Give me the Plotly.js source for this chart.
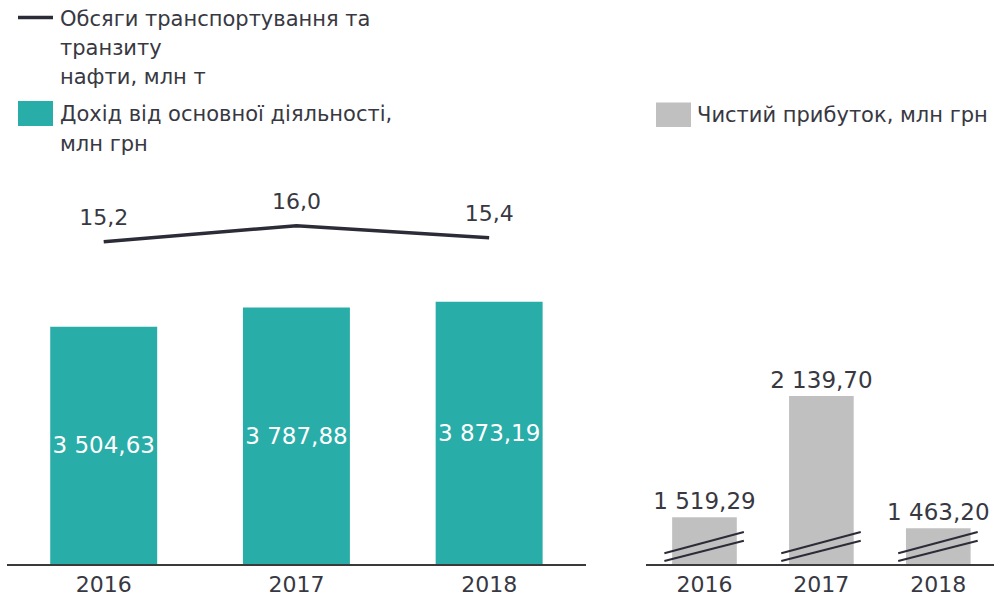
<!DOCTYPE html>
<html>
<head>
<meta charset="utf-8">
<script src="https://cdn.plot.ly/plotly-3.0.1.min.js"></script>
<style>html,body{margin:0;padding:0;background:#fff;}#chart{width:994px;height:600px;}</style>
</head>
<body>
<div id="chart"></div>
<script>
// ---- data ----
const years = ['2016', '2017', '2018'];
const revenue = [3504.63, 3787.88, 3873.19];      // Дохід від основної діяльності, млн грн
const transport = [15.2, 16.0, 15.4];             // Обсяги транспортування та транзиту нафти, млн т
const profit = [1519.29, 2139.70, 1463.20];       // Чистий прибуток, млн грн
const lineLegend = ['Обсяги транспортування та', 'транзиту', 'нафти, млн т'];
const revenueLegend = ['Дохід від основної діяльності,', 'млн грн'];
const profitLegend = ['Чистий прибуток, млн грн'];

// ---- styles ----
const FONT = 'DejaVu Sans, Verdana, sans-serif';
const TXT = '#383842';
const DARK = '#2c2c38';
const TEAL = '#29ada8';
const GREY = '#c0c0c0';

const traces = [
  {
    type: 'bar', x: years, y: revenue, xaxis: 'x', yaxis: 'y',
    marker: {color: TEAL}, width: 0.555,
    texttemplate: '%{y:,.2f}', textposition: 'inside', insidetextanchor: 'middle',
    textangle: 0, constraintext: 'none',
    textfont: {family: FONT, size: 23, color: '#ffffff'},
    hoverinfo: 'skip', showlegend: false
  },
  {
    type: 'scatter', mode: 'lines+markers+text', x: years, y: transport, xaxis: 'x', yaxis: 'y2',
    line: {color: DARK, width: 3.5},
    marker: {size: 16, opacity: 0, color: DARK},
    texttemplate: '%{y:.1f}', textposition: 'top center',
    textfont: {family: FONT, size: 22, color: TXT},
    cliponaxis: false, hoverinfo: 'skip', showlegend: false
  },
  {
    type: 'bar', x: years, y: profit, xaxis: 'x2', yaxis: 'y3',
    marker: {color: GREY}, width: 0.553,
    texttemplate: '%{y:,.2f}', textposition: 'outside', textangle: 0,
    constraintext: 'none', cliponaxis: false,
    textfont: {family: FONT, size: 23, color: TXT},
    hoverinfo: 'skip', showlegend: false
  }
];

// break marks across the grey bars (axis does not start at zero)
const shapes = [];
years.forEach((yr, i) => {
  shapes.push({type: 'line', xref: 'x2', yref: 'paper', x0: i - 0.343, x1: i + 0.337, y0: 0.0778, y1: 0.1133,
    line: {color: DARK, width: 2}});
  shapes.push({type: 'line', xref: 'x2', yref: 'paper', x0: i - 0.343, x1: i + 0.337, y0: 0.065, y1: 0.0988,
    line: {color: DARK, width: 2}});
});
// legend symbols
shapes.push({type: 'line', xref: 'paper', yref: 'paper', x0: 18 / 994, x1: 53 / 994, y0: 1 - 17.5 / 600, y1: 1 - 17.5 / 600,
  line: {color: DARK, width: 3.5}});
shapes.push({type: 'rect', xref: 'paper', yref: 'paper', x0: 18 / 994, x1: 53 / 994, y0: 1 - 126 / 600, y1: 1 - 101 / 600,
  fillcolor: TEAL, line: {width: 0}});
shapes.push({type: 'rect', xref: 'paper', yref: 'paper', x0: 656 / 994, x1: 691 / 994, y0: 1 - 127 / 600, y1: 1 - 102.5 / 600,
  fillcolor: GREY, line: {width: 0}});

const annotations = [];
function legendLines(lines, xPx, yCenters) {
  lines.forEach((t, k) => {
    annotations.push({
      text: t, xref: 'paper', yref: 'paper', x: xPx / 994, y: 1 - yCenters[k] / 600,
      xanchor: 'left', yanchor: 'middle', showarrow: false,
      font: {family: FONT, size: 21, color: TXT}
    });
  });
}
legendLines(lineLegend, 58, [19, 48.5, 77.5]);
legendLines(revenueLegend, 58, [114, 144]);
legendLines(profitLegend, 695, [115]);

const tickFont = {family: FONT, size: 22, color: TXT};
const layout = {
  width: 994, height: 600,
  margin: {l: 0, r: 0, t: 0, b: 0},
  paper_bgcolor: '#ffffff', plot_bgcolor: 'rgba(0,0,0,0)',
  separators: ', ',
  showlegend: false,
  font: {family: FONT, color: TXT},
  xaxis: {domain: [7.35 / 994, 585.5 / 994], range: [-0.5, 2.5], type: 'category',
    showline: true, linecolor: '#3a3a3a', linewidth: 2, ticks: '', showgrid: false, zeroline: false,
    tickfont: tickFont, anchor: 'y', fixedrange: true},
  yaxis: {domain: [0.06, 1], range: [0, 8331], visible: false, fixedrange: true},
  yaxis2: {domain: [0.06, 1], range: [-0.915, 27.285], overlaying: 'y', visible: false, fixedrange: true},
  xaxis2: {domain: [646 / 994, 1], range: [-0.5, 2.4765], type: 'category', anchor: 'y3',
    showline: true, linecolor: '#3a3a3a', linewidth: 2, ticks: '', showgrid: false, zeroline: false,
    tickfont: tickFont, fixedrange: true},
  yaxis3: {domain: [0.06, 1], range: [1280.6, 4164.8], anchor: 'x2', visible: false, fixedrange: true},
  shapes: shapes,
  annotations: annotations
};

Plotly.newPlot('chart', traces, layout, {displayModeBar: false, staticPlot: true});
</script>
</body>
</html>
